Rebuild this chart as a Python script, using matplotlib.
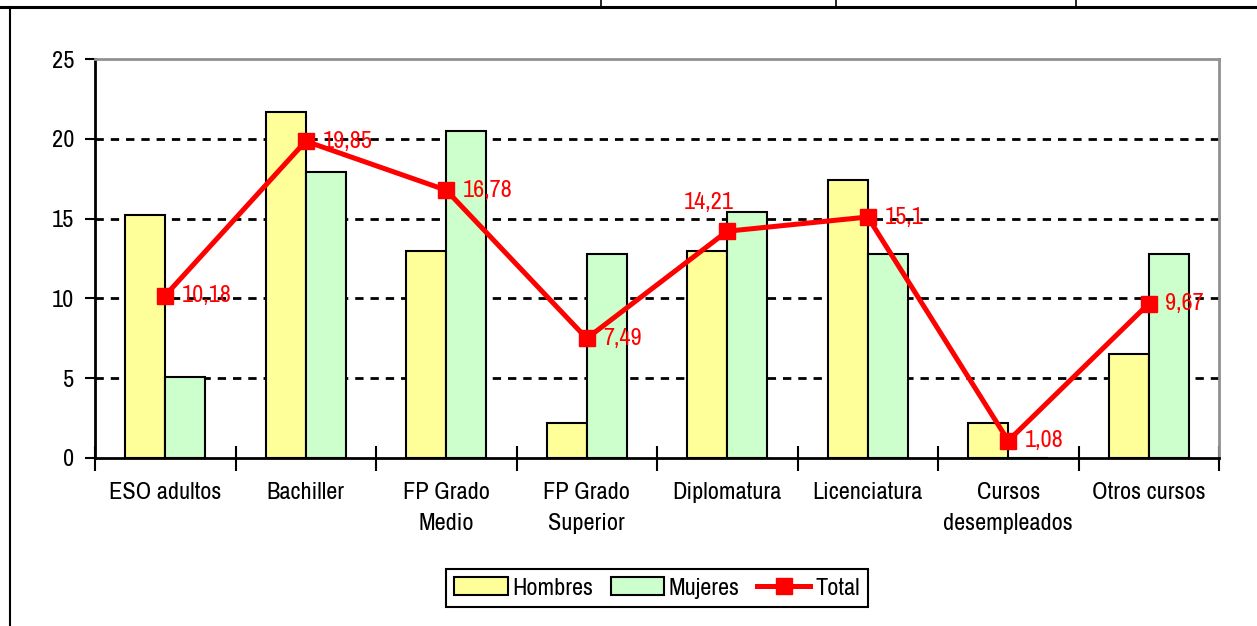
import numpy as np
import matplotlib
matplotlib.use('Agg')
import matplotlib.pyplot as plt
from matplotlib.lines import Line2D

plt.rcParams.update({
    'font.family': ['Arial Narrow', 'Liberation Sans Narrow', 'Archivo Narrow',
                    'Roboto Condensed', 'IBM Plex Sans Condensed', 'Liberation Sans', 'DejaVu Sans'],
    'font.size': 17.5,
})

categorias = ['ESO adultos', 'Bachiller', 'FP Grado\nMedio', 'FP Grado\nSuperior',
              'Diplomatura', 'Licenciatura', 'Cursos\ndesempleados', 'Otros cursos']
hombres = [15.2, 21.7, 13.0, 2.2, 13.0, 17.4, 2.2, 6.5]
mujeres = [5.1, 17.9, 20.5, 12.8, 15.4, 12.8, 0.0, 12.8]
total = [10.18, 19.85, 16.78, 7.49, 14.21, 15.1, 1.08, 9.67]

W, H = 1257, 626
fig = plt.figure(figsize=(W/100, H/100), dpi=100)
ax = fig.add_axes([95/W, 1-458/H, (1219-95)/W, (458-59)/H])

x = np.arange(len(categorias))
w = 0.286
b1 = ax.bar(x-w/2, hombres, w, color='#FFFF99', edgecolor='black', lw=1.5, label='Hombres', zorder=2)
b2 = ax.bar(x+w/2, mujeres, w, color='#CCFFCC', edgecolor='black', lw=1.5, label='Mujeres', zorder=2)
l1, = ax.plot(x, total, color='#FF0000', lw=3.6, marker='s', ms=11.5, label='Total', zorder=4)

for i, v in enumerate(total):
    txt = f'{v:g}'.replace('.', ',')
    if i == 4:
        ax.annotate(txt, (x[i], v), xytext=(-13, 21), textcoords='offset points',
                    ha='center', va='center', color='#FF0000', zorder=5)
    else:
        ax.annotate(txt, (x[i], v), xytext=(12, 0), textcoords='offset points',
                    ha='left', va='center', color='#FF0000', zorder=5)

ax.set_xlim(-0.5, len(categorias)-0.5)
ax.set_ylim(0, 25)
ax.set_yticks([0, 5, 10, 15, 20, 25])
ax.set_xticks(np.arange(len(categorias)+1)-0.5)
ax.set_xticklabels([])
ax.set_xticks(x, minor=True)
ax.set_xticklabels(categorias, minor=True, linespacing=1.6)
ax.tick_params(axis='x', which='major', direction='inout', length=18, width=1.5)
ax.tick_params(axis='x', which='minor', length=0, pad=17)
ax.tick_params(axis='y', direction='out', length=7, width=1.5, pad=8)

for yv in [5, 10, 15, 20]:
    ax.axhline(yv, color='black', lw=2, ls=(0, (3, 2.5)), zorder=1)

ax.spines['left'].set_linewidth(2)
ax.spines['bottom'].set_linewidth(2)
ax.spines['top'].set_color('#909090')
ax.spines['right'].set_color('#909090')
ax.spines['top'].set_linewidth(2)
ax.spines['right'].set_linewidth(2)

leg = fig.legend([b1, b2, l1], ['Hombres', 'Mujeres', 'Total'], loc='center',
                 bbox_to_anchor=(657/W, 1-588/H), ncol=3, frameon=True,
                 fancybox=False, edgecolor='black', handlelength=2.2, handletextpad=0.2,
                 columnspacing=0.7, borderpad=0.35, framealpha=1)
leg.get_frame().set_linewidth(1.5)

# page border lines
fig.add_artist(Line2D([0, 1], [1-7/H, 1-7/H], color='black', lw=2.2))
fig.add_artist(Line2D([10/W, 10/W], [0, 1-7/H], color='black', lw=1.5))
for xp in [601, 836, 1076]:
    fig.add_artist(Line2D([xp/W, xp/W], [1-7/H, 1], color='black', lw=1.2))

fig.savefig('out.png', dpi=100)
